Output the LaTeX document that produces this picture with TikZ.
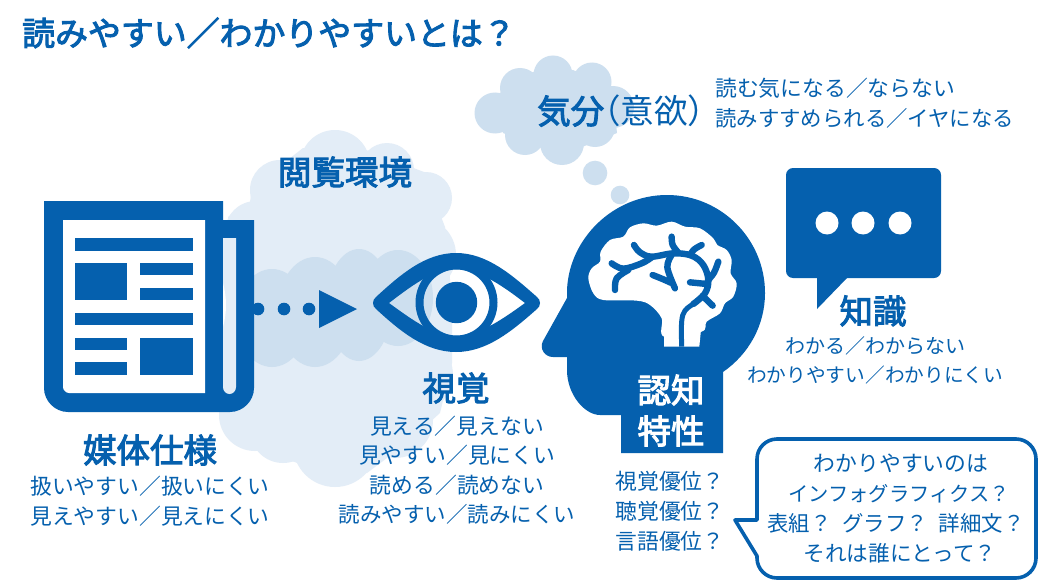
\documentclass[tikz,border=0pt]{standalone}
\usepackage{fontspec}
\setmainfont{Noto Sans CJK JP}
\newfontfamily\midfont[FakeBold=3]{Noto Sans CJK JP}
\definecolor{mainblue}{HTML}{0560AE}
\definecolor{cloudlight}{HTML}{E3EDF7}
\definecolor{cloudmid}{HTML}{CDDFEF}
\newcommand{\sz}[1]{\fontsize{#1}{#1}\selectfont}
\tikzset{
  x=1pt,y=-1pt,
  bodytext/.style={text=mainblue,font=\sz{21.8},inner sep=0pt,align=center},
  headtext/.style={text=mainblue,font=\sz{33.5}\midfont,inner sep=0pt},
  whitehead/.style={text=white,font=\sz{33.5}\midfont,inner sep=0pt},
  vein/.style={draw=mainblue,line width=6.4pt,line cap=round,line join=round},
}
\begin{document}
\begin{tikzpicture}
\useasboundingbox (0,0) rectangle (1040,583);
\fill[white] (0,0) rectangle (1040,583);

% large pale cloud
\begin{scope}[cloudlight]
\fill (335,165) circle (35);
\fill (387,170) circle (27);
\fill (426,198) circle (26);
\fill (418,255) circle (38);
\fill (280,190) circle (30);
\fill (256,232) circle (31);
\fill (410,310) circle (44);
\fill (415,375) circle (38);
\fill (395,420) circle (38);
\fill (335,445) circle (42);
\fill (283,430) circle (33);
\fill (255,415) circle (36);
\fill (303,148) -- (366,150) -- (424,172) -- (445,227) -- (452,300) -- (452,363) -- (440,413)
  -- (407,443) -- (367,473) -- (303,465) -- (247,445) -- (222,420) -- (232,330) -- (228,217)
  -- (250,202) -- (252,188) -- cycle;
\end{scope}

% middle cloud
\begin{scope}[cloudmid]
\fill (272,318) ellipse (36 and 49);
\fill (315,312) ellipse (38 and 55);
\fill (359,305) ellipse (33 and 56);
\fill (398,298) ellipse (35 and 48);
\end{scope}

% thought cloud
\begin{scope}[cloudmid]
\fill (495,113) circle (20.5);
\fill (520,88) circle (20);
\fill (553,75) circle (19.5);
\fill (592,82) circle (19.5);
\fill (613,107) circle (21);
\fill (595,127) circle (20);
\fill (562,143) circle (22);
\fill (525,135) circle (20);
\fill (533,72) -- (573,70) -- (612,87) -- (617,133) -- (582,147) -- (542,148) -- (503,133) -- (500,93) -- cycle;
\fill (595,173) circle (12.3);
\fill (620,195) circle (9.3);
\end{scope}

% newspaper
\fill[mainblue] (44,201) -- (223,201) -- (223,220) -- (254,220) -- (254,388)
  .. controls (254,401) and (243,412) .. (230,412) -- (68,412)
  .. controls (55,412) and (44,401) .. (44,388) -- cycle;
\fill[white] (63,220) -- (205,220) -- (205,393) -- (69,393)
  .. controls (66,393) and (63,390) .. (63,387) -- cycle;
\fill[cloudlight] (223,238) -- (236,238) -- (236,387)
  .. controls (236,391) and (233,394) .. (229.5,394)
  .. controls (226,394) and (223,391) .. (223,387) -- cycle;
\fill[white] (223,283) .. controls (227,298) and (227,312) .. (223,327) -- cycle;
\fill[mainblue] (75,238) rectangle (193,251);
\fill[mainblue] (75,263) rectangle (127,300);
\fill[mainblue] (140,263) rectangle (193,275);
\fill[mainblue] (140,288) rectangle (193,300);
\fill[mainblue] (75,313) rectangle (193,325);
\fill[mainblue] (75,338) rectangle (127,350);
\fill[mainblue] (75,362) rectangle (127,375);
\fill[mainblue] (140,338) rectangle (193,375);

% dots and arrow
\fill[mainblue] (258,309) circle (6.3);
\fill[mainblue] (284,309) circle (6.3);
\fill[mainblue] (309,309) circle (6.3);
\fill[mainblue] (319,290) -- (357,309) -- (319,328) -- cycle;

% eye
\fill[mainblue,even odd rule]
  (376,297) .. controls (400,275) and (425,253) .. (456,253)
  .. controls (487,253) and (512,275) .. (537,297)
  .. controls (541,300) and (541,306) .. (537,309)
  .. controls (512,331) and (487,352) .. (456,352)
  .. controls (425,352) and (400,331) .. (376,309)
  .. controls (372,306) and (372,300) .. (376,297) -- cycle
  (389,303) .. controls (415,283) and (435,269) .. (456,269)
  .. controls (477,269) and (499,283) .. (525,303)
  .. controls (499,322) and (477,336) .. (456,336)
  .. controls (435,336) and (415,322) .. (389,303) -- cycle;
\begin{scope}
\clip (376,297) .. controls (400,275) and (425,253) .. (456,253)
  .. controls (487,253) and (512,275) .. (537,297)
  -- (537,309) .. controls (512,331) and (487,352) .. (456,352)
  .. controls (425,352) and (400,331) .. (376,309) -- cycle;
\fill[mainblue,even odd rule] (456.5,302.5) circle (41) (456.5,302.5) circle (33);
\end{scope}
\fill[mainblue] (456.5,302.5) circle (20.7);

% head
\fill[mainblue] (621,453) -- (723,453) -- (723,372)
  .. controls (749,354) and (765,325) .. (765,293)
  .. controls (765,239) and (721,195) .. (667,195)
  .. controls (613,195) and (569,239) .. (567,290)
  -- (567,298) -- (543,341)
  .. controls (539,349) and (545,357) .. (553,357)
  -- (567,357) -- (567,370)
  .. controls (567,395) and (585,415) .. (600,415)
  -- (621,415) -- cycle;

% brain
\begin{scope}[shift={(560,190)},x=.3333pt,y=-.3333pt]
\fill[white] plot[smooth cycle,tension=.55] coordinates {
  (312,440) (305,385) (270,345) (230,332) (130,330) (100,310) (85,265) (95,235) (120,215)
  (122,185) (150,150) (190,140) (210,112) (250,100) (290,107) (335,95) (375,110)
  (420,115) (460,145) (472,165) (500,180) (515,210) (512,250) (530,280) (520,320)
  (495,340) (480,370) (440,395) (425,425)};
\fill[white] (312,400) -- (312,470) -- (418,470) -- (425,400) -- cycle;
\draw[vein] plot[smooth,tension=.6] coordinates {(222,165) (240,187) (275,200) (340,190) (395,197) (430,225) (445,270) (435,310) (400,342)};
\draw[vein,line cap=butt,line width=5pt] plot[smooth,tension=.6] coordinates {(400,342) (375,362) (365,395) (365,470)};
\draw[vein] plot[smooth,tension=.6] coordinates {(335,140) (338,165) (355,188)};
\draw[vein] plot[smooth,tension=.6] coordinates {(425,165) (403,178) (390,195)};
\draw[vein] plot[smooth,tension=.6] coordinates {(475,215) (462,248) (443,272)};
\draw[vein] plot[smooth,tension=.6] coordinates {(390,277) (440,282)};
\draw[vein] plot[smooth,tension=.6] coordinates {(428,318) (458,347)};
\draw[vein] plot[smooth,tension=.6] coordinates {(155,220) (190,236) (245,220) (275,202)};
\draw[vein] plot[smooth,tension=.6] coordinates {(165,300) (170,265) (205,240)};
\draw[vein] plot[smooth,tension=.6] coordinates {(335,195) (322,232) (345,295)};
\draw[vein] plot[smooth,tension=.6] coordinates {(278,255) (310,268) (332,278)};
\end{scope}

% knowledge bubble
\fill[mainblue,rounded corners=7] (786,168) -- (941,168) -- (941,278) -- (786,278) -- cycle;
\fill[mainblue] (817,270) -- (817,309) -- (847,278) -- (847,270) -- cycle;
\fill[white] (827,223) circle (11.5);
\fill[white] (863,223) circle (11.5);
\fill[white] (900,223) circle (11.5);

% question bubble
\draw[mainblue,line width=3.6pt,line join=round,fill=white]
  (777,439) -- (1016,439)
  .. controls (1027,439) and (1036,448) .. (1036,459)
  -- (1036,558)
  .. controls (1036,569) and (1027,578) .. (1016,578)
  -- (777,578)
  .. controls (766,578) and (757,569) .. (757,558)
  -- (757,556) -- (735,520) -- (757,520) -- (757,459)
  .. controls (757,448) and (766,439) .. (777,439) -- cycle;

% texts
\node[anchor=west,text=mainblue,inner sep=0pt,font=\sz{32.9}\midfont] (title) at (22,33) {読みやすい／わかりやすいとは？};
\node[headtext] (env) at (345,172) {閲覧環境};
\node[headtext] (media) at (150,450) {媒体仕様};
\node[headtext] (vision) at (456,388) {視覚};
\node[whitehead] (cog1) at (671,390) {認知};
\node[whitehead] (cog2) at (671,431) {特性};
\node[headtext] (know) at (873,311) {知識};
\node[headtext,anchor=west] (mood) at (537,111) {気分\hspace{-.5em}{\rmfamily （意欲）}};

\node[bodytext,anchor=west] (m1) at (715,88) {読む気になる／ならない};
\node[bodytext,anchor=west,font=\sz{21.4}] (m2) at (715,118) {読みすすめられる／イヤになる};
\node[bodytext] (a1) at (150,486) {扱いやすい／扱いにくい};
\node[bodytext] (a2) at (150,516) {見えやすい／見えにくい};
\node[bodytext] (v1) at (457,426) {見える／見えない};
\node[bodytext] (v2) at (457,455) {見やすい／見にくい};
\node[bodytext] (v3) at (457,485) {読める／読めない};
\node[bodytext,font=\sz{21.5}] (v4) at (457,514) {読みやすい／読みにくい};
\node[bodytext,font=\sz{20}] (k1) at (875,346) {わかる／わからない};
\node[bodytext,font=\sz{19.7}] (k2) at (875,375) {わかりやすい／わかりにくい};
\node[bodytext] (c1) at (670,481) {視覚優位？};
\node[bodytext] (c2) at (670,511) {聴覚優位？};
\node[bodytext] (c3) at (670,541) {言語優位？};
\node[bodytext] (b1) at (901,463) {わかりやすいのは};
\node[bodytext,font=\sz{20.3}] (b2) at (899,494) {インフォグラフィクス？};
\node[bodytext,font=\sz{21.4}] (b3) at (896,523) {表組？\hspace{6pt} グラフ？\hspace{6pt} 詳細文？};
\node[bodytext,font=\sz{21.6}] (b4) at (900,553) {それは誰にとって？};
\end{tikzpicture}
\end{document}
